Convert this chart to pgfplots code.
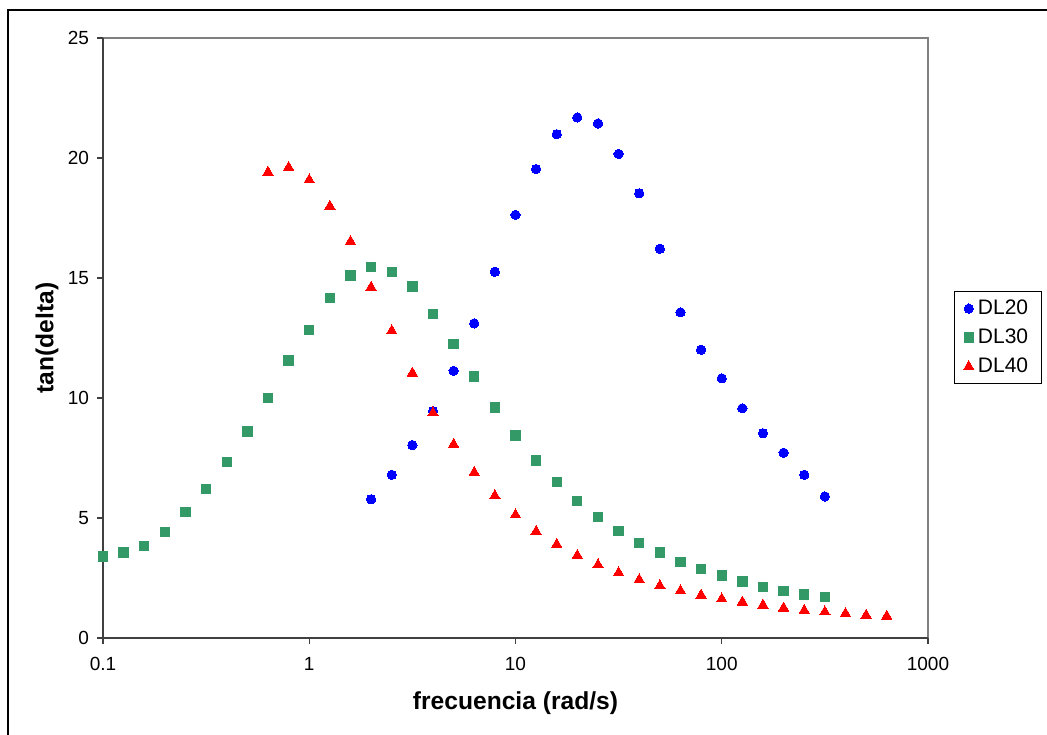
\documentclass[border=0pt]{standalone}
\usepackage{pgfplots}
\pgfplotsset{compat=1.18}
\usepackage{pgfplotstable}
\usepackage{fontspec}
\setmainfont{Liberation Sans}
\definecolor{sgreen}{RGB}{51,153,102}
\definecolor{axdark}{RGB}{64,64,64}
\pgfplotstableread{
x y
1.995 5.78
2.512 6.80
3.162 8.04
3.981 9.45
5.012 11.13
6.310 13.11
7.943 15.26
10 17.63
12.59 19.54
15.85 20.99
19.95 21.69
25.12 21.44
31.62 20.17
39.81 18.53
50.12 16.22
63.10 13.57
79.43 12.01
100 10.82
125.9 9.57
158.5 8.53
199.5 7.72
251.2 6.80
316.2 5.90
}\dltwenty
\pgfplotstableread{
x y
0.1 3.39
0.1259 3.56
0.1585 3.83
0.1995 4.42
0.2512 5.25
0.3162 6.22
0.3981 7.33
0.5012 8.61
0.6310 10.00
0.7943 11.56
1 12.83
1.259 14.17
1.585 15.11
1.995 15.47
2.512 15.26
3.162 14.64
3.981 13.50
5.012 12.24
6.310 10.89
7.943 9.61
10 8.44
12.59 7.40
15.85 6.50
19.95 5.71
25.12 5.04
31.62 4.46
39.81 3.97
50.12 3.56
63.10 3.18
79.43 2.88
100 2.60
125.9 2.35
158.5 2.13
199.5 1.96
251.2 1.81
316.2 1.71
}\dlthirty
\pgfplotstableread{
x y
0.631 19.41
0.7943 19.61
1 19.09
1.259 17.99
1.585 16.52
1.995 14.61
2.512 12.80
3.162 11.04
3.981 9.38
5.012 8.07
6.310 6.90
7.943 5.93
10 5.13
12.59 4.44
15.85 3.90
19.95 3.44
25.12 3.05
31.62 2.72
39.81 2.43
50.12 2.18
63.10 1.97
79.43 1.79
100 1.63
125.9 1.50
158.5 1.37
199.5 1.25
251.2 1.15
316.2 1.09
398.1 1.02
501.2 0.95
631 0.91
}\dlforty
\pgfplotsset{onemark legend/.style={legend image code/.code={\draw[##1] plot coordinates {(0pt,0pt)};}}}
\begin{document}
\begin{tikzpicture}
\path[use as bounding box] (-51.5pt,-48pt) rectangle (472pt,319pt);
\draw[black, line width=1pt] (-47.5pt,-60pt) -- (-47.5pt,314pt) -- (480pt,314pt);
\begin{axis}[
  at={(0pt,0pt)}, anchor=south west,
  scale only axis, width=412.5pt, height=300pt,
  xmode=log, xmin=0.1, xmax=1000,
  xtick={0.1,1,10,100,1000}, xticklabels={0.1,1,10,100,1000},
  xminorticks=false,
  ymin=0, ymax=25, ytick={0,5,10,15,20,25},
  /pgf/number format/assume math mode=true,
  tick pos=left, tick align=outside, major tick length=3pt,
  tick style={axdark, line width=0.6pt},
  axis line style={draw=none},
  clip=false,
  tick label style={font=\fontsize{9.5pt}{11pt}\selectfont},
  xticklabel style={yshift=-3pt},
  yticklabel style={xshift=-0.5pt},
  xlabel={frecuencia (rad/s)}, ylabel={tan(delta)},
  label style={font=\fontsize{12.3pt}{14pt}\selectfont\bfseries},
  xlabel style={at={(axis description cs:0.5,-0.1083)}, anchor=center},
  ylabel style={at={(axis description cs:-0.068,0.5)}, anchor=center},
  legend style={at={(axis description cs:1.0315,0.5783)}, anchor=north west,
    draw=black, line width=0.6pt, inner xsep=4.5pt, inner ysep=3pt,
    font=\fontsize{10.5pt}{12pt}\selectfont,
    row sep=3.5pt,
    nodes={text height=8pt, text depth=2pt, inner ysep=0.5pt},
    /tikz/every even column/.append style={column sep=2.5pt}},
  legend cell align=left,
  onemark legend,
]
\addplot[only marks, mark=*, mark size=2.33pt, color=blue, mark options={fill=blue, draw=blue, line width=0pt}] table[x=x,y=y] {\dltwenty};
\addlegendentry{DL20}
\addplot[only marks, mark=square*, mark size=2.33pt, color=sgreen, mark options={fill=sgreen, draw=sgreen, line width=0pt}] table[x=x,y=y] {\dlthirty};
\addlegendentry{DL30}
\addplot[only marks, mark=triangle*, mark size=3pt, color=red, mark options={fill=red, draw=red, line width=0pt}] table[x=x,y=y] {\dlforty};
\addlegendentry{DL40}
\draw[gray, line width=0.8pt] (rel axis cs:0,1) -- (rel axis cs:1,1) -- (rel axis cs:1,0);
\draw[axdark, line width=1pt] (rel axis cs:0,1) -- (rel axis cs:0,0) -- (rel axis cs:1,0);
\end{axis}
\end{tikzpicture}
\end{document}
